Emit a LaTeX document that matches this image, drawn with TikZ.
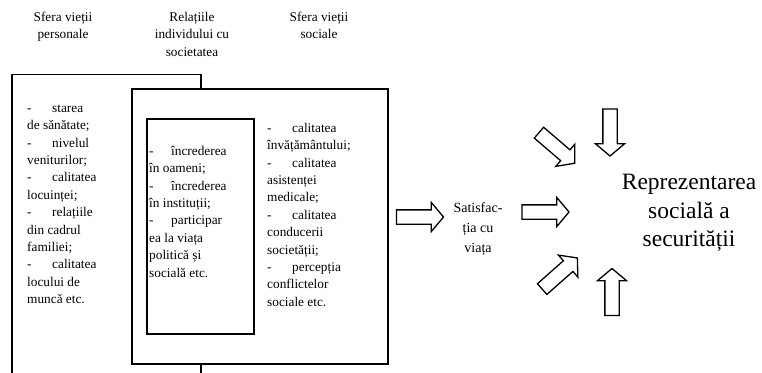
\documentclass[tikz,border=0pt]{standalone}
\usepackage{fontspec}
\setmainfont{Liberation Serif}
\usetikzlibrary{shapes.arrows}
\tikzset{
  box/.style={draw, line width=1.5pt, fill=white, anchor=north west, inner sep=0pt},
  listtext/.style={anchor=north west, align=left, inner sep=0pt, font=\fontsize{13.3}{17.4}\selectfont},
  header/.style={anchor=north, align=center, inner sep=0pt, font=\fontsize{13.3}{17.4}\selectfont},
  blockarrow/.style={draw, single arrow, line width=1.3pt, fill=white, minimum height=47pt,
    inner xsep=0pt, inner ysep=6.5pt, single arrow head extend=7.5pt, single arrow tip angle=100}
}
\newcommand{\itemdash}{\makebox[25pt][l]{-}}
\begin{document}
\begin{tikzpicture}[x=1pt,y=-1pt]
  \useasboundingbox (0,0) rectangle (762,372);
  \clip (0,0) rectangle (762,372);
  % headers
  \node[header] (hpers) at (63,9) {\strut Sfera vieții\\personale};
  \node[header] (hrel) at (192,9) {\strut Relațiile\\individului cu\\societatea};
  \node[header] (hsoc) at (319,9) {\strut Sfera vieții\\sociale};
  % boxes
  \node[box, minimum width=189pt, minimum height=330pt] (personal) at (11,73.5) {};
  \node[box, minimum width=256pt, minimum height=275pt] (social) at (131,88) {};
  \node[box, minimum width=107pt, minimum height=215pt] (relations) at (146,118) {};
  % box texts
  \node[listtext] (tpers) at (27,100) {\strut\itemdash starea\\de sănătate;\\\itemdash nivelul\\veniturilor;\\
    \itemdash calitatea\\locuinței;\\\itemdash relațiile\\din cadrul\\familiei;\\\itemdash calitatea\\
    locului de\\muncă etc.};
  \node[listtext] (trel) at (149,143) {\strut\makebox[22pt][l]{-}încrederea\\în oameni;\\
    \makebox[22pt][l]{-}încrederea\\în instituții;\\\makebox[22pt][l]{-}participar\\ea la viața\\
    politică și\\socială etc.};
  \node[listtext] (tsoc) at (267,120) {\strut\itemdash calitatea\\învățământului;\\\itemdash calitatea\\
    asistenței\\medicale;\\\itemdash calitatea\\conducerii\\societății;\\\itemdash percepția\\
    conflictelor\\sociale etc.};
  % satisfaction and result
  \node[align=center, inner sep=0pt, font=\fontsize{14}{20}\selectfont] (satisf) at (478,228.6) {Satisfac-\\ția cu\\viața};
  \node[align=center, inner sep=0pt, font=\fontsize{23.5}{28.5}\selectfont] (repr) at (689,213) {Reprezentarea\\socială a\\securității};
  % block arrows
  \node[blockarrow] (a1) at (417,217) {};
  \node[blockarrow] (a2) at (542.5,212) {};
  \node[blockarrow, rotate=-40.6] (a3) at (554.5,146) {};
  \node[blockarrow, rotate=-90] (a4) at (610,129.5) {};
  \node[blockarrow, rotate=41.5] (a5) at (557.5,275.5) {};
  \node[blockarrow, rotate=90] (a6) at (612,295) {};
\end{tikzpicture}
\end{document}
